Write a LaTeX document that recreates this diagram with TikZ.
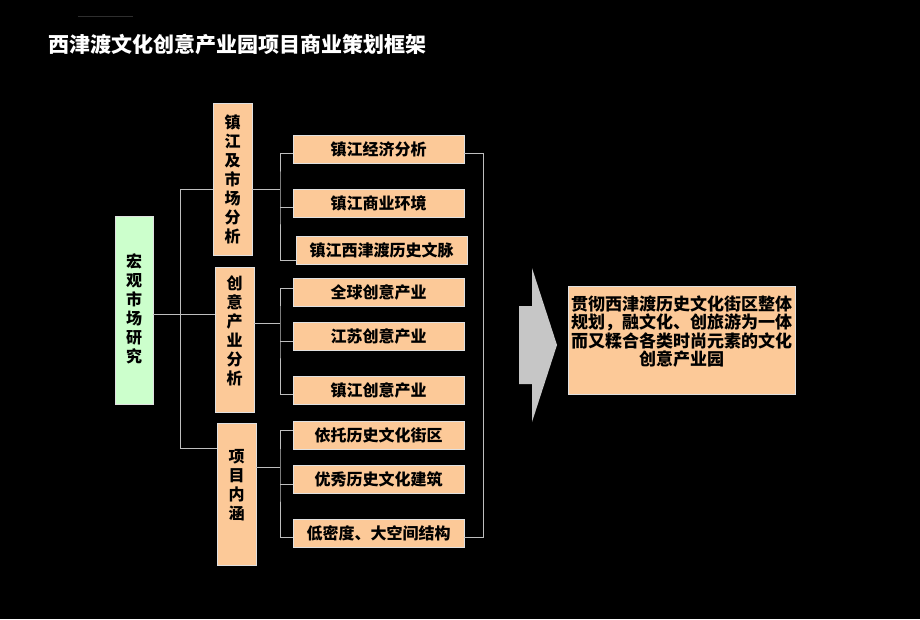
\documentclass[tikz,border=0pt]{standalone}
\usepackage{fontspec}
\setmainfont{Noto Sans CJK SC}
\usetikzlibrary{positioning}

\definecolor{boxpeach}{HTML}{FCC998}
\definecolor{boxgreen}{HTML}{CCFFCC}
\definecolor{linkgray}{HTML}{BEBEBE}

\tikzset{
    peachbox/.style={draw=white!88!black, fill=boxpeach, line width=0.8pt, inner sep=0pt,
        font=\bfseries\fontsize{16}{19}\selectfont, text=black},
    greenbox/.style={peachbox, fill=boxgreen},
    sidebox/.style={peachbox, minimum width=39pt, align=center},
    itembox/.style={peachbox, minimum width=171pt, minimum height=28pt},
    link/.style={draw=linkgray, line width=0.8pt}
}

\begin{document}
\begin{tikzpicture}[x=1pt, y=-1pt]
    %% background and frame
    \fill[black] (0,0) rectangle (920,619);
    \useasboundingbox (0,0) rectangle (920,619);
    \draw[white!18!black] (78,16) -- (133,16);
    % title
    \node[anchor=west, text=white, font=\bfseries\fontsize{21}{24}\selectfont] (title) at (45,45) {西津渡文化创意产业园项目商业策划框架};

    %% left box
    \node[greenbox, minimum width=38pt, minimum height=188pt, align=center] (macro) at (134,310)
        {\mbox{}\\[-8pt]宏\\观\\市\\场\\研\\究};

    %% middle column (an empty last line lifts the text a little)
    \node[sidebox, minimum height=152pt] (ma) at (232.5,179) {镇\\江\\及\\市\\场\\分\\析};
    \node[sidebox, minimum height=145pt] (mb) at (234.5,339.5) {创\\意\\产\\业\\分\\析\\ \mbox{}};
    \node[sidebox, minimum height=142pt] (mc) at (236.5,494) {项\\目\\内\\涵\\ \mbox{}};

    %% right column
    \node[itembox] (r1) at (378.5,149) {镇江经济分析};
    \node[itembox] (r2) at (378.5,203) {镇江商业环境};
    \node[itembox] (r3) at (381.5,250.5) {镇江西津渡历史文脉};
    \node[itembox] (r4) at (378.5,292) {全球创意产业};
    \node[itembox] (r5) at (378.5,336.5) {江苏创意产业};
    \node[itembox] (r6) at (378.5,390.5) {镇江创意产业};
    \node[itembox] (r7) at (378.5,435) {依托历史文化街区};
    \node[itembox] (r8) at (378.5,479.5) {优秀历史文化建筑};
    \node[itembox] (r9) at (378.5,533) {低密度、大空间结构};

    %% result box
    \node[peachbox, minimum width=227pt, minimum height=108pt, align=center,
        font=\bfseries\fontsize{17}{18.5}\selectfont] (goal) at (681.5,340)
        {贯彻西津渡历史文化街区整体\\规划，融文化、创旅游为一体\\而又糅合各类时尚元素的文化\\创意产业园\\ \mbox{}};

    %% left tree
    \coordinate (ta) at (180,189);
    \coordinate (tc) at (180,448);
    \draw[link] ([yshift=-4pt]macro.east) -- ([yshift=-4pt]macro.east -| mb.west);
    \draw[link] (ta -| ma.west) -- (ta) -- (tc) -- (tc -| mc.west);

    %% brackets to the right column
    \coordinate (ka) at (280,189);
    \coordinate (kb) at (280,323);
    \coordinate (kc) at (280,467);
    \draw[link] (ma.east |- ka) -- (ka);
    \draw[link] ([yshift=-4pt]r1.west) -| (ka) |- ([yshift=-10pt]r3.west);
    \draw[link] ([yshift=-4pt]r2.west) -- ([yshift=-4pt]r2.west -| ka);
    \draw[link] (mb.east |- kb) -- (kb);
    \draw[link] ([yshift=4pt]r4.west) -| (kb) |- ([yshift=-4pt]r6.west);
    \draw[link] ([yshift=-5pt]r5.west) -- ([yshift=-5pt]r5.west -| kb);
    \draw[link] (mc.east |- kc) -- (kc);
    \draw[link] ([yshift=5pt]r7.west) -| (kc) |- ([yshift=-4pt]r9.west);
    \draw[link] ([yshift=-5pt]r8.west) -- ([yshift=-5pt]r8.west -| kc);
    % outer bracket
    \draw[link] ([yshift=-4pt]r1.east) -- ++(19,0) |- ([yshift=-4pt]r9.east);

    %% big arrow
    \fill[gray!45] (519,306) -- (532,306) -- (532,268) -- (557,345) -- (532,422) -- (532,384) -- (519,384) -- cycle;
\end{tikzpicture}
\end{document}
